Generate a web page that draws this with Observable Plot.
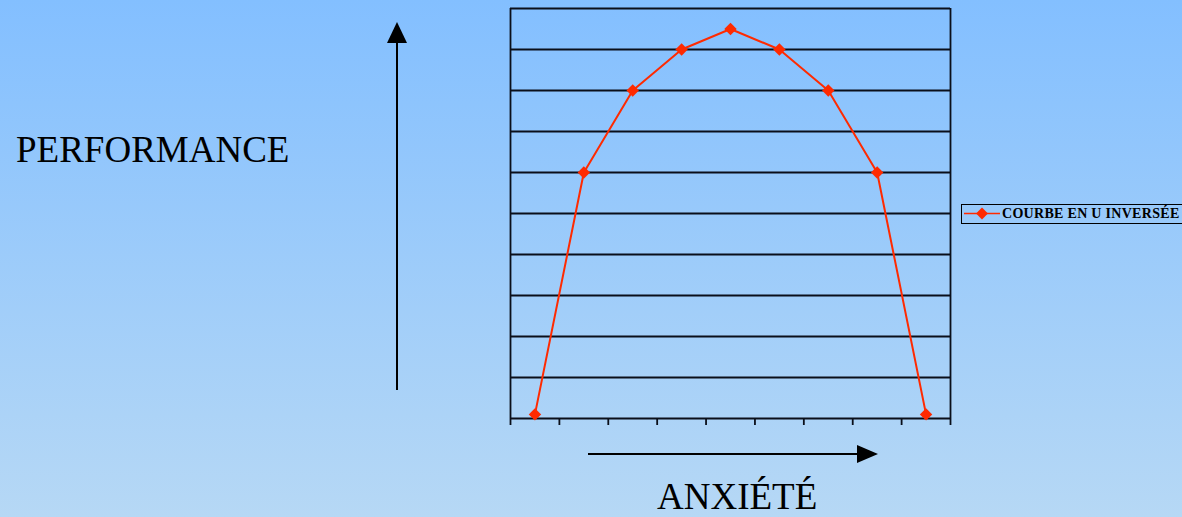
<!DOCTYPE html>
<html>
<head>
<meta charset="utf-8">
<script src="https://cdn.jsdelivr.net/npm/d3@7"></script>
<script src="https://cdn.jsdelivr.net/npm/@observablehq/plot@0.6"></script>
<style>
  html, body { margin: 0; padding: 0; }
  body { width: 1182px; height: 517px; overflow: hidden; position: relative;
         background: linear-gradient(to bottom, #83BFFF 0%, #B6D8F5 100%);
         font-family: "Liberation Serif", "Times New Roman", serif; }
  #chart { position: absolute; left: 0; top: 0; }
  .lbl { position: absolute; color: #000; font-size: 37px; line-height: 1; white-space: nowrap; }
  #legend { position: absolute; left: 961px; top: 204px; width: 221px; height: 20px;
            border: 1.5px solid #000; border-right: none; box-sizing: border-box; }
  #legend span { position: absolute; left: 40px; top: 2px; font-weight: bold; font-size: 14px; letter-spacing: 0.3px; line-height: 1; white-space: nowrap; }
</style>
</head>
<body>
<div id="chart"></div>
<div class="lbl" style="left:16px; top:131px;">PERFORMANCE</div>
<div class="lbl" style="left:657px; top:478px;">ANXIÉTÉ</div>
<div id="legend"><svg width="40" height="17" style="position:absolute;left:0;top:0"></svg><span>COURBE EN U INVERSÉE</span></div>
<script>
const anxiety = [1, 2, 3, 4, 5, 6, 7, 8, 9];
const performance = [0.1, 6, 8, 9, 9.5, 9, 8, 6, 0.1];
const gridLevels = [0, 1, 2, 3, 4, 5, 6, 7, 8, 9, 10];
const seriesName = "COURBE EN U INVERSÉE";
const lineColor = "#FF2A00";

const data = anxiety.map((a, i) => ({anxiety: a, performance: performance[i], series: seriesName}));
const boundaries = d3.range(anxiety.length + 1);

const chart = Plot.plot({
  width: 1182,
  height: 517,
  marginLeft: 510,
  marginRight: 232,
  marginTop: 8,
  marginBottom: 99,
  style: {background: "transparent", overflow: "visible"},
  x: {domain: [0, anxiety.length], axis: null},
  y: {domain: [0, 10], axis: null},
  marks: [
    Plot.ruleY(gridLevels, {stroke: "#0a0f1a", strokeWidth: 1.8}),
    Plot.ruleX([0, anxiety.length], {stroke: "#0a0f1a", strokeWidth: 1.8}),
    Plot.axisX(boundaries, {anchor: "bottom", tickSize: 7, tickFormat: () => "", stroke: "#0a0f1a", strokeWidth: 1.8, label: null}),
    Plot.line(data, {x: d => d.anxiety - 0.5, y: "performance", stroke: lineColor, strokeWidth: 2}),
    Plot.dot(data, {x: d => d.anxiety - 0.5, y: "performance", symbol: "diamond2", r: 5.6, fill: lineColor, stroke: "none"})
  ]
});
document.getElementById("chart").appendChild(chart);

const svg = d3.select(chart);
// annotation arrows
svg.append("line").attr("x1", 397).attr("x2", 397).attr("y1", 390).attr("y2", 42)
  .attr("stroke", "#000").attr("stroke-width", 2);
svg.append("path").attr("d", "M397,22 L407,43 L387,43 Z").attr("fill", "#000");
svg.append("line").attr("x1", 588).attr("x2", 860).attr("y1", 454).attr("y2", 454)
  .attr("stroke", "#000").attr("stroke-width", 2);
svg.append("path").attr("d", "M878,454 L857,445 L857,463 Z").attr("fill", "#000");

// legend swatch
const lg = d3.select("#legend svg");
lg.append("line").attr("x1", 2).attr("x2", 38).attr("y1", 8.5).attr("y2", 8.5).attr("stroke", lineColor).attr("stroke-width", 1.5);
lg.append("path").attr("d", d3.symbol(d3.symbolDiamond2, 90)()).attr("transform", "translate(20,8.5)").attr("fill", lineColor);
</script>
</body>
</html>
